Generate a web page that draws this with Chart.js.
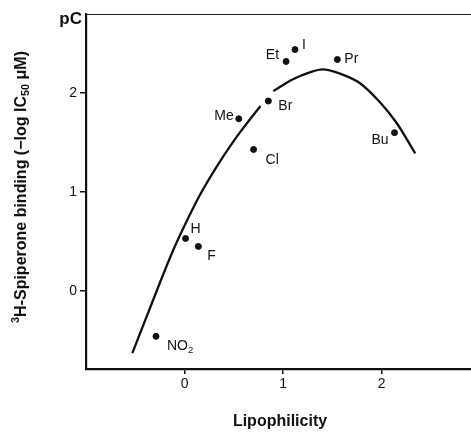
<!DOCTYPE html>
<html lang="en">
<head>
  <meta charset="UTF-8" />
  <title>Spiperone binding vs lipophilicity</title>
  <script src="https://cdn.jsdelivr.net/npm/chart.js"></script>
  <style>
    html, body { margin: 0; padding: 0; background: #fff; overflow: hidden; }
    #wrap { position: absolute; left: 0; top: 0; width: 510px; height: 435px; }
  </style>
</head>
<body>
  <div id="wrap"><canvas id="chart"></canvas></div>

  <script>
    // compounds (substituent) with lipophilicity and pC
    const names = ["NO2", "H", "F", "Me", "Cl", "Br", "Et", "I", "Pr", "Bu"];
    const lipo = [-0.29, 0.01, 0.14, 0.55, 0.70, 0.85, 1.03, 1.12, 1.55, 2.13];
    const pC = [-0.46, 0.53, 0.45, 1.74, 1.43, 1.92, 2.32, 2.44, 2.34, 1.60];

    // fitted curve (null = the small break near Br)
    const curveX = [-0.53, -0.33, -0.12, 0.00, 0.15, 0.36, 0.56, 0.77, 0.84, 0.90, 1.10, 1.27, 1.40, 1.57, 1.78, 1.98, 2.15, 2.34];
    const curveY = [-0.63, -0.12, 0.40, 0.66, 0.96, 1.31, 1.60, 1.87, null, 2.02, 2.14, 2.21, 2.24, 2.20, 2.10, 1.91, 1.70, 1.39];

    const xTicks = [0, 1, 2, 3];
    const yTicks = [0, 1, 2];

    // where each label sits relative to its dot
    const labelPos = {
      NO2: [11, 10, 'left'], H: [5, -9, 'left'], F: [9, 10, 'left'],
      Me: [-5, -3, 'right'], Cl: [12, 11, 'left'], Br: [10, 5, 'left'],
      Et: [-7, -6, 'right'], I: [7, -4, 'left'], Pr: [7, 0, 'left'],
      Bu: [-6, 7, 'right']
    };

    const points = names.map((n, i) => ({ x: lipo[i], y: pC[i] }));
    const curve = curveX.map((x, i) => ({ x: x, y: curveY[i] }));

    const FONT = '"Liberation Sans", Arial, Helvetica, sans-serif';

    // draws text pieces, with subscripts / superscripts
    function drawRich(ctx, parts, x, y, size, weight) {
      let cx = x;
      parts.forEach(p => {
        const s = p.sub || p.sup ? size * 0.68 : size;
        ctx.font = weight + ' ' + s + 'px ' + FONT;
        const dy = p.sub ? size * 0.28 : p.sup ? -size * 0.38 : 0;
        ctx.fillText(p.t, cx, y + dy);
        cx += ctx.measureText(p.t).width;
      });
      return cx - x;
    }
    function richWidth(ctx, parts, size, weight) {
      let w = 0;
      parts.forEach(p => {
        const s = p.sub || p.sup ? size * 0.68 : size;
        ctx.font = weight + ' ' + s + 'px ' + FONT;
        w += ctx.measureText(p.t).width;
      });
      return w;
    }

    const extras = {
      id: 'extras',
      afterDraw(chart) {
        const ctx = chart.ctx;
        const xs = chart.scales.x, ys = chart.scales.y;
        const area = chart.chartArea;
        ctx.save();
        ctx.fillStyle = '#111';
        ctx.textBaseline = 'middle';

        // thin top frame line
        ctx.strokeStyle = '#222';
        ctx.lineWidth = 1;
        ctx.beginPath();
        ctx.moveTo(area.left, area.top + 0.5);
        ctx.lineTo(area.right, area.top + 0.5);
        ctx.stroke();

        // point labels
        names.forEach((n, i) => {
          const px = xs.getPixelForValue(lipo[i]);
          const py = ys.getPixelForValue(pC[i]);
          const [dx, dy, align] = labelPos[n];
          const parts = n === 'NO2' ? [{ t: 'NO' }, { t: '2', sub: true }] : [{ t: n }];
          const w = richWidth(ctx, parts, 14, 'normal');
          const sx = align === 'right' ? px + dx - w : px + dx;
          drawRich(ctx, parts, sx, py + dy, 14, 'normal');
        });

        // pC unit at top of y axis
        ctx.font = 'bold 17px ' + FONT;
        ctx.textAlign = 'right';
        ctx.fillText('pC', area.left - 4, area.top + 5);
        ctx.textAlign = 'left';

        // x axis title
        ctx.font = 'bold 16px ' + FONT;
        ctx.textAlign = 'center';
        ctx.fillText('Lipophilicity', 280, 422);
        ctx.textAlign = 'left';

        // y axis title, rotated
        const yParts = [
          { t: '3', sup: true }, { t: 'H-Spiperone binding (\u2212log IC' },
          { t: '50', sub: true }, { t: ' \u03BCM)' }
        ];
        const tw = richWidth(ctx, yParts, 16, 'bold');
        ctx.translate(22, 187);
        ctx.rotate(-Math.PI / 2);
        drawRich(ctx, yParts, -tw / 2, 0, 16, 'bold');
        ctx.restore();
      }
    };

    new Chart(document.getElementById('chart'), {
      type: 'scatter',
      data: {
        datasets: [
          {
            data: points,
            backgroundColor: '#111',
            borderColor: '#111',
            pointRadius: 3,
            pointHoverRadius: 3
          },
          {
            type: 'line',
            data: curve,
            borderColor: '#111',
            borderWidth: 2.3,
            pointRadius: 0,
            fill: false,
            cubicInterpolationMode: 'monotone',
            spanGaps: false
          }
        ]
      },
      options: {
        responsive: true,
        maintainAspectRatio: false,
        animation: false,
        layout: { padding: { top: 14, right: 10, left: 0, bottom: 0 } },
        plugins: { legend: { display: false }, tooltip: { enabled: false } },
        scales: {
          x: {
            type: 'linear',
            min: -1,
            max: 3.2,
            afterBuildTicks: s => { s.ticks = xTicks.map(v => ({ value: v })); },
            afterFit: s => { s.height = 66; },
            grid: { drawOnChartArea: false, tickLength: 5, color: '#111', lineWidth: 1.5 },
            border: { display: true, color: '#111', width: 2.2 },
            ticks: { color: '#111', padding: 2, font: { family: FONT, size: 14 } }
          },
          y: {
            type: 'linear',
            min: -0.79,
            max: 2.8,
            afterBuildTicks: s => { s.ticks = yTicks.map(v => ({ value: v })); },
            afterFit: s => { s.width = 86; },
            grid: { drawOnChartArea: false, tickLength: 6, color: '#111', lineWidth: 1.5 },
            border: { display: true, color: '#111', width: 2.2 },
            ticks: { color: '#111', padding: 3, font: { family: FONT, size: 14 } }
          }
        }
      },
      plugins: [extras]
    });
  </script>
</body>
</html>
